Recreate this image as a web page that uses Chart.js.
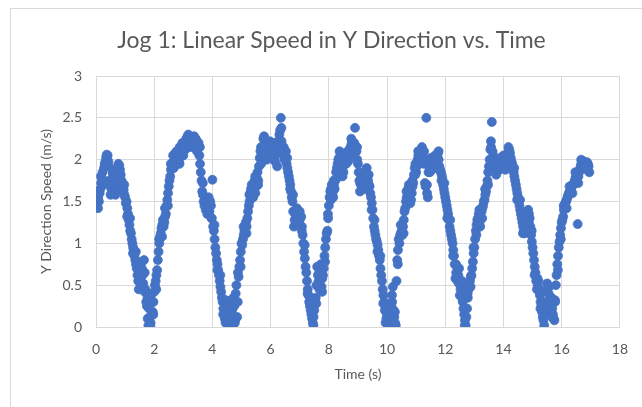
<!DOCTYPE html>
<html>
<head>
<meta charset="utf-8">
<script src="https://cdn.jsdelivr.net/npm/chart.js@4.4.1/dist/chart.umd.min.js"></script>
<style>
  html, body { margin: 0; padding: 0; background: #ffffff; }
  #wrap { width: 642px; height: 407px; }
</style>
</head>
<body>
<div id="wrap"><canvas id="c" width="642" height="407"></canvas></div>
<script>
// ---- Data ----
const chartTitle = 'Jog 1: Linear Speed in Y Direction vs. Time';
const xAxisTitle = 'Time (s)';
const yAxisTitle = 'Y Direction Speed (m/s)';
const xTickValues = [0, 2, 4, 6, 8, 10, 12, 14, 16, 18];
const yTickValues = [0, 0.5, 1, 1.5, 2, 2.5, 3];

// samples on the whole 0.05 s
const timeA = [
  0.00,0.05,0.10,0.15,0.20,0.25,0.30,0.35,0.40,0.45,0.50,0.55,0.60,0.65,0.70,0.75,0.80,0.85,0.90,0.95,
  1.00,1.05,1.10,1.15,1.20,1.25,1.30,1.35,1.40,1.45,1.50,1.55,1.60,1.65,1.70,1.75,1.80,1.85,1.90,1.95,
  2.00,2.05,2.10,2.15,2.20,2.25,2.30,2.35,2.40,2.45,2.50,2.55,2.60,2.65,2.70,2.75,2.80,2.85,2.90,2.95,
  3.00,3.05,3.10,3.15,3.20,3.25,3.30,3.35,3.40,3.45,3.50,3.55,3.60,3.65,3.70,3.75,3.80,3.85,3.90,3.95,
  4.00,4.05,4.10,4.15,4.20,4.25,4.30,4.35,4.40,4.45,4.50,4.55,4.60,4.65,4.70,4.75,4.80,4.85,4.90,4.95,
  5.00,5.05,5.10,5.15,5.20,5.25,5.30,5.35,5.40,5.45,5.50,5.55,5.60,5.65,5.70,5.75,5.80,5.85,5.90,5.95,
  6.00,6.05,6.10,6.15,6.20,6.25,6.30,6.35,6.40,6.45,6.50,6.55,6.60,6.65,6.70,6.75,6.80,6.85,6.90,6.95,
  7.00,7.05,7.10,7.15,7.20,7.25,7.30,7.35,7.40,7.45,7.50,7.55,7.60,7.65,7.70,7.75,7.80,7.85,7.90,7.95,
  8.00,8.05,8.10,8.15,8.20,8.25,8.30,8.35,8.40,8.45,8.50,8.55,8.60,8.65,8.70,8.75,8.80,8.85,8.90,8.95,
  9.00,9.05,9.10,9.15,9.20,9.25,9.30,9.35,9.40,9.45,9.50,9.55,9.60,9.65,9.70,9.75,9.80,9.85,9.90,9.95,
  10.00,10.05,10.10,10.15,10.20,10.25,10.30,10.35,10.40,10.45,10.50,10.55,10.60,10.65,10.70,10.75,10.80,10.85,10.90,10.95,
  11.00,11.05,11.10,11.15,11.20,11.25,11.30,11.35,11.40,11.45,11.50,11.55,11.60,11.65,11.70,11.75,11.80,11.85,11.90,11.95,
  12.00,12.05,12.10,12.15,12.20,12.25,12.30,12.35,12.40,12.45,12.50,12.55,12.60,12.65,12.70,12.75,12.80,12.85,12.90,12.95,
  13.00,13.05,13.10,13.15,13.20,13.25,13.30,13.35,13.40,13.45,13.50,13.55,13.60,13.65,13.70,13.75,13.80,13.85,13.90,13.95,
  14.00,14.05,14.10,14.15,14.20,14.25,14.30,14.35,14.40,14.45,14.50,14.55,14.60,14.65,14.70,14.75,14.80,14.85,14.90,14.95,
  15.00,15.05,15.10,15.15,15.20,15.25,15.30,15.35,15.40,15.45,15.50,15.55,15.60,15.65,15.70,15.75,15.80,15.85,15.90,15.95,
  16.00,16.05,16.10,16.15,16.20,16.25,16.30,16.35,16.40,16.45,16.50,16.55,16.60,16.65,16.70,16.75,16.80,16.85,16.90,16.95
];
const speedA = [
  1.48,1.52,1.50,1.65,1.78,1.70,1.95,2.03,2.05,1.92,1.58,1.72,1.85,1.68,1.80,1.90,1.93,1.82,1.72,1.64,
  1.55,1.50,1.35,1.22,1.12,1.00,0.92,0.80,0.70,0.55,0.72,0.48,0.62,0.80,0.45,0.25,0.02,0.12,0.30,0.18,
  0.42,0.55,0.68,0.90,1.08,1.18,1.28,1.25,1.35,1.52,1.68,1.80,1.95,2.05,1.92,2.02,2.10,1.98,2.12,2.16,
  2.05,2.18,2.25,2.28,2.22,2.26,2.20,2.27,2.15,2.23,2.18,2.05,1.85,1.62,1.50,1.55,1.42,1.50,1.38,1.45,
  1.76,1.15,0.95,0.80,0.68,0.55,0.42,0.30,0.15,0.05,0.22,0.02,0.30,0.10,0.00,0.25,0.40,0.12,0.60,0.80,
  1.00,1.05,1.15,1.25,1.30,1.45,1.60,1.70,1.55,1.75,1.68,1.85,1.92,2.10,2.05,2.25,2.18,2.02,2.10,2.15,
  2.08,2.18,2.12,1.98,2.10,2.22,2.30,2.50,2.08,2.15,2.05,1.95,1.85,1.75,1.62,1.50,1.20,1.35,1.42,1.30,
  1.38,1.32,1.10,0.90,0.72,0.55,0.38,0.25,0.15,0.05,0.20,0.35,0.72,0.55,0.68,0.48,0.62,0.85,1.05,1.15,
  1.45,1.62,1.70,1.55,1.65,1.85,1.95,2.02,2.08,1.90,1.85,2.00,1.95,2.05,2.12,2.15,2.22,2.18,2.38,2.10,
  1.95,1.75,1.70,1.78,1.65,1.82,1.90,1.75,1.68,1.55,1.40,1.20,1.10,1.02,0.92,0.80,0.62,0.45,0.30,0.05,
  0.15,0.00,0.08,0.25,0.48,0.12,0.02,0.80,1.05,1.10,1.15,1.20,1.38,1.50,1.62,1.70,1.48,1.60,1.72,1.90,
  1.85,2.00,1.95,2.05,2.15,2.10,1.72,2.50,1.55,1.92,2.02,1.88,1.95,2.05,1.98,2.08,1.92,1.85,1.78,1.65,
  1.55,1.45,1.35,1.20,1.10,1.00,0.85,0.58,0.72,0.62,0.38,0.50,0.30,0.15,0.02,0.22,0.45,0.55,0.62,0.78,
  0.95,1.15,1.28,1.35,1.20,1.38,1.45,1.52,1.62,1.75,1.92,2.12,2.45,2.05,1.95,1.82,1.88,1.95,2.02,1.90,
  2.05,1.98,1.92,2.05,2.12,2.02,1.95,1.85,1.75,1.65,1.55,1.45,1.35,1.25,1.15,1.20,1.32,1.40,1.30,1.10,
  0.95,0.80,0.65,0.45,0.55,0.38,0.25,0.12,0.02,0.30,0.52,0.40,0.20,0.35,0.15,0.08,0.50,0.75,0.95,1.10,
  1.25,1.32,1.45,1.50,1.55,1.60,1.62,1.68,1.70,1.75,1.80,1.23,1.85,1.92,1.95,1.98,1.96,1.90,1.95,1.85
];

// samples in between
const timeB = [
  0.025,0.075,0.125,0.175,0.225,0.275,0.325,0.375,0.425,0.475,0.525,0.575,0.625,0.675,0.725,0.775,0.825,0.875,0.925,0.975,
  1.025,1.075,1.125,1.175,1.225,1.275,1.325,1.375,1.425,1.475,1.525,1.575,1.625,1.675,1.725,1.775,1.825,1.875,1.925,1.975,
  2.025,2.075,2.125,2.175,2.225,2.275,2.325,2.375,2.425,2.475,2.525,2.575,2.625,2.675,2.725,2.775,2.825,2.875,2.925,2.975,
  3.025,3.075,3.125,3.175,3.225,3.275,3.325,3.375,3.425,3.475,3.525,3.575,3.625,3.675,3.725,3.775,3.825,3.875,3.925,3.975,
  4.025,4.075,4.125,4.175,4.225,4.275,4.325,4.375,4.425,4.475,4.525,4.575,4.625,4.675,4.725,4.775,4.825,4.875,4.925,4.975,
  5.025,5.075,5.125,5.175,5.225,5.275,5.325,5.375,5.425,5.475,5.525,5.575,5.625,5.675,5.725,5.775,5.825,5.875,5.925,5.975,
  6.025,6.075,6.125,6.175,6.225,6.275,6.325,6.375,6.425,6.475,6.525,6.575,6.625,6.675,6.725,6.775,6.825,6.875,6.925,6.975,
  7.025,7.075,7.125,7.175,7.225,7.275,7.325,7.375,7.425,7.475,7.525,7.575,7.625,7.675,7.725,7.775,7.825,7.875,7.925,7.975,
  8.025,8.075,8.125,8.175,8.225,8.275,8.325,8.375,8.425,8.475,8.525,8.575,8.625,8.675,8.725,8.775,8.825,8.875,8.925,8.975,
  9.025,9.075,9.125,9.175,9.225,9.275,9.325,9.375,9.425,9.475,9.525,9.575,9.625,9.675,9.725,9.775,9.825,9.875,9.925,9.975,
  10.025,10.075,10.125,10.175,10.225,10.275,10.325,10.375,10.425,10.475,10.525,10.575,10.625,10.675,10.725,10.775,10.825,10.875,10.925,10.975,
  11.025,11.075,11.125,11.175,11.225,11.275,11.325,11.375,11.425,11.475,11.525,11.575,11.625,11.675,11.725,11.775,11.825,11.875,11.925,11.975,
  12.025,12.075,12.125,12.175,12.225,12.275,12.325,12.375,12.425,12.475,12.525,12.575,12.625,12.675,12.725,12.775,12.825,12.875,12.925,12.975,
  13.025,13.075,13.125,13.175,13.225,13.275,13.325,13.375,13.425,13.475,13.525,13.575,13.625,13.675,13.725,13.775,13.825,13.875,13.925,13.975,
  14.025,14.075,14.125,14.175,14.225,14.275,14.325,14.375,14.425,14.475,14.525,14.575,14.625,14.675,14.725,14.775,14.825,14.875,14.925,14.975,
  15.025,15.075,15.125,15.175,15.225,15.275,15.325,15.375,15.425,15.475,15.525,15.575,15.625,15.675,15.725,15.775,15.825,15.875,15.925,15.975,
  16.025,16.075,16.125,16.175,16.225,16.275,16.325,16.375,16.425,16.475,16.525,16.575,16.625,16.675,16.725,16.775,16.825,16.875,16.925
];
const speedB = [
  1.50,1.55,1.60,1.72,1.85,1.90,1.98,1.95,1.98,1.75,1.65,1.80,1.75,1.62,1.85,1.82,1.88,1.75,1.68,1.58,
  1.48,1.42,1.28,1.15,1.05,0.95,0.85,0.75,0.62,0.68,0.58,0.70,0.52,0.65,0.30,0.10,0.22,0.05,0.40,0.30,
  0.50,0.62,0.80,1.00,1.12,1.22,1.20,1.32,1.45,1.60,1.75,1.88,1.90,1.98,2.08,1.95,2.05,2.15,2.05,2.10,
  2.12,2.22,2.20,2.25,2.28,2.18,2.24,2.20,2.25,2.12,2.20,1.95,1.75,1.58,1.45,1.50,1.35,1.45,1.50,1.30,
  1.20,1.05,0.88,0.75,0.62,0.48,0.35,0.22,0.10,0.30,0.15,0.25,0.05,0.20,0.35,0.08,0.50,0.65,0.72,0.90,
  0.98,1.10,1.22,1.20,1.38,1.50,1.65,1.62,1.70,1.60,1.78,1.75,2.02,1.95,2.15,2.28,2.08,2.15,2.05,2.20,
  2.12,2.05,2.20,2.05,1.92,2.18,2.35,2.22,2.12,2.05,2.10,1.90,1.80,1.70,1.55,1.38,1.28,1.40,1.35,1.25,
  1.30,1.20,1.00,0.82,0.65,0.45,0.30,0.20,0.10,0.12,0.30,0.50,0.62,0.45,0.75,0.58,0.70,0.95,1.12,1.30,
  1.55,1.65,1.60,1.70,1.75,1.90,2.00,1.95,1.98,1.85,1.95,2.02,2.00,2.10,2.05,2.18,2.12,2.20,2.15,2.00,
  1.85,1.72,1.80,1.68,1.75,1.88,1.82,1.70,1.60,1.48,1.30,1.15,1.05,0.98,0.85,0.70,0.55,0.38,0.20,0.10,
  0.05,0.15,0.02,0.30,0.20,0.05,0.55,0.92,1.00,1.12,1.10,1.28,1.42,1.55,1.65,1.58,1.52,1.68,1.82,1.95,
  1.92,2.05,2.02,2.10,2.05,1.95,1.68,1.60,1.85,1.98,1.95,1.92,2.00,2.02,2.05,2.00,1.88,1.82,1.70,1.60,
  1.50,1.40,1.28,1.15,1.05,0.92,0.75,0.65,0.55,0.70,0.45,0.35,0.22,0.08,0.12,0.35,0.50,0.60,0.70,0.88,
  1.05,1.22,1.30,1.25,1.30,1.42,1.50,1.58,1.68,1.85,2.00,2.15,2.10,1.98,1.88,1.90,1.92,1.98,1.95,1.98,
  2.02,1.95,2.00,2.10,2.08,1.98,1.90,1.80,1.70,1.60,1.50,1.40,1.30,1.20,1.12,1.28,1.38,1.35,1.20,1.02,
  0.88,0.72,0.55,0.50,0.45,0.30,0.18,0.08,0.15,0.42,0.48,0.30,0.28,0.22,0.10,0.30,0.62,0.85,1.02,1.18,
  1.28,1.40,1.48,1.52,1.58,1.62,1.65,1.70,1.72,1.78,1.82,1.80,1.88,1.95,1.92,1.97,1.93,1.88,1.92
];

// scattered samples that widen the band
const timeC = [
  0.07,0.17,0.27,0.37,0.47,0.57,0.67,0.77,0.87,0.97,
  1.07,1.17,1.27,1.37,1.47,1.57,1.67,1.77,1.87,1.97,
  2.07,2.17,2.27,2.37,2.47,2.57,2.67,2.77,2.87,2.97,
  3.07,3.17,3.27,3.37,3.47,3.57,3.67,3.77,3.87,3.97,
  4.07,4.17,4.27,4.37,4.47,4.57,4.67,4.77,4.87,4.97,
  5.07,5.17,5.27,5.37,5.47,5.57,5.67,5.77,5.87,5.97,
  6.07,6.17,6.27,6.37,6.47,6.57,6.67,6.77,6.87,6.97,
  7.07,7.17,7.27,7.37,7.47,7.57,7.67,7.77,7.87,7.97,
  8.07,8.17,8.27,8.37,8.47,8.57,8.67,8.77,8.87,8.97,
  9.07,9.17,9.27,9.37,9.47,9.57,9.67,9.77,9.87,9.97,
  10.07,10.17,10.27,10.37,10.47,10.57,10.67,10.77,10.87,10.97,
  11.07,11.17,11.27,11.37,11.47,11.57,11.67,11.77,11.87,11.97,
  12.07,12.17,12.27,12.37,12.47,12.57,12.67,12.77,12.87,12.97,
  13.07,13.17,13.27,13.37,13.47,13.57,13.67,13.77,13.87,13.97,
  14.07,14.17,14.27,14.37,14.47,14.57,14.67,14.77,14.87,14.97,
  15.07,15.17,15.27,15.37,15.47,15.57,15.67,15.77,15.87,15.97,
  16.07,16.17,16.27,16.37,16.47,16.57,16.67,16.77,16.87
];
const speedC = [
  1.42,1.80,1.75,2.06,1.70,1.85,1.58,1.95,1.70,1.70,
  1.32,1.30,0.88,0.90,0.45,0.78,0.42,0.35,0.00,0.15,
  0.45,1.05,1.08,1.42,1.45,1.95,1.90,2.10,1.95,2.20,
  2.12,2.30,2.15,2.28,2.10,2.15,1.72,1.40,1.55,1.30,
  1.22,0.68,0.62,0.15,0.32,0.05,0.28,0.05,0.30,0.72,
  1.20,1.12,1.58,1.55,1.80,1.70,2.15,2.15,2.00,2.22,
  2.02,2.10,2.12,2.38,2.00,2.02,1.65,1.58,1.25,1.38,
  1.15,0.98,0.40,0.32,0.02,0.28,0.65,0.42,0.78,1.35,
  1.52,1.75,1.78,2.10,1.80,2.08,1.98,2.25,2.10,2.15,
  1.62,1.82,1.75,1.82,1.40,1.28,0.90,0.85,0.28,0.18,
  0.00,0.38,0.18,0.75,1.22,1.12,1.62,1.55,1.75,1.82,
  2.10,2.00,2.10,1.70,1.85,2.00,1.95,2.10,1.75,1.72,
  1.30,1.28,0.85,0.75,0.52,0.55,0.02,0.40,0.48,0.95,
  1.10,1.40,1.30,1.65,1.70,2.22,1.92,1.95,1.88,2.02,
  1.88,2.15,1.92,1.90,1.52,1.52,1.12,1.35,1.25,1.15,
  0.62,0.58,0.22,0.20,0.25,0.48,0.12,0.32,0.68,1.05,
  1.45,1.42,1.68,1.60,1.85,1.72,2.00,1.90,1.97
];

// ---- Chart ----
const textColor = '#595959';
const gridColor = '#d9d9d9';
const fontFamily = 'Lato, "Open Sans", "Liberation Sans", sans-serif';

const points = timeA.map((t, i) => ({ x: t, y: speedA[i] }))
  .concat(timeB.map((t, i) => ({ x: t, y: speedB[i] })))
  .concat(timeC.map((t, i) => ({ x: t, y: speedC[i] })));

const outerBorder = {
  id: 'outerBorder',
  beforeDraw(chart) {
    const ctx = chart.ctx;
    ctx.save();
    ctx.fillStyle = '#ffffff';
    ctx.fillRect(0, 0, chart.width, chart.height);
    ctx.strokeStyle = '#d9d9d9';
    ctx.lineWidth = 1;
    ctx.strokeRect(10.5, 8.5, chart.width + 20, chart.height + 20);
    ctx.restore();
  }
};

new Chart(document.getElementById('c'), {
  type: 'scatter',
  data: {
    datasets: [{
      label: 'Y speed',
      data: points,
      backgroundColor: '#4472C4',
      borderColor: '#4472C4',
      borderWidth: 0.75,
      pointRadius: 4.5,
      pointHoverRadius: 4.5
    }]
  },
  options: {
    responsive: false,
    animation: false,
    devicePixelRatio: 1,
    layout: { padding: { left: 37, right: 16, top: 0, bottom: 0 } },
    plugins: {
      legend: { display: false },
      tooltip: { enabled: false },
      title: {
        display: true,
        text: chartTitle,
        color: textColor,
        font: { family: fontFamily, size: 23, weight: 'normal', lineHeight: 1.2 },
        padding: { top: 27, bottom: 21.4 }
      }
    },
    scales: {
      x: {
        type: 'linear',
        min: 0, max: 18,
        afterBuildTicks: (s) => { s.ticks = xTickValues.map(v => ({ value: v })); },
        afterFit: (s) => { s.height = 80; },
        grid: { color: gridColor, drawTicks: false, lineWidth: 1 },
        border: { color: gridColor, width: 1 },
        ticks: {
          color: textColor, padding: 14,
          font: { family: fontFamily, size: 14 },
          callback: (v) => String(v)
        },
        title: {
          display: true, text: xAxisTitle, color: textColor,
          font: { family: fontFamily, size: 14 },
          padding: { top: 0, bottom: 24 }
        }
      },
      y: {
        type: 'linear',
        min: 0, max: 3,
        afterBuildTicks: (s) => { s.ticks = yTickValues.map(v => ({ value: v })); },
        afterFit: (s) => { s.width = 59; },
        grid: { color: gridColor, drawTicks: false, lineWidth: 1 },
        border: { color: gridColor, width: 1 },
        ticks: {
          color: textColor, padding: 14,
          font: { family: fontFamily, size: 14 },
          callback: (v) => String(v)
        },
        title: {
          display: true, text: yAxisTitle, color: textColor,
          font: { family: fontFamily, size: 14 },
          padding: { top: 1.5, bottom: 0 }
        }
      }
    }
  },
  plugins: [outerBorder]
});
</script>
</body>
</html>
